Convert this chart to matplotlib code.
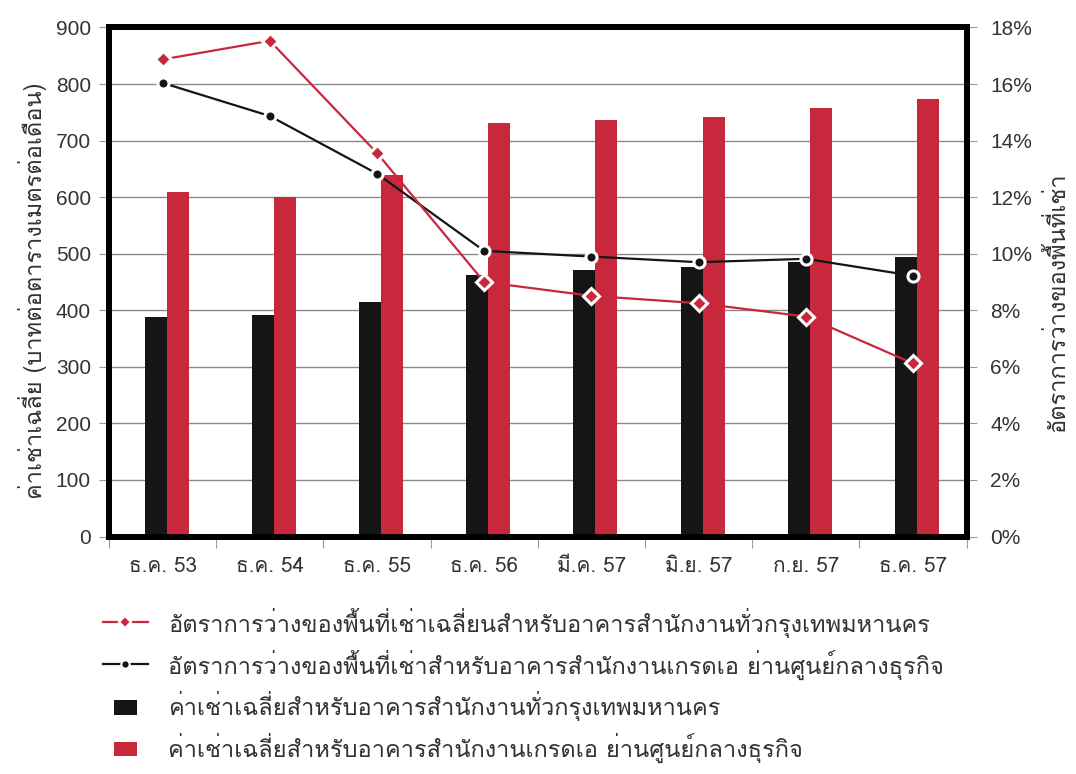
import matplotlib
matplotlib.use("Agg")
import matplotlib.pyplot as plt
import numpy as np
from matplotlib import font_manager
from matplotlib.ft2font import FT2Font
from matplotlib.lines import Line2D
from matplotlib.patches import Patch, Rectangle
from matplotlib.legend_handler import HandlerPatch

# data
categories = ["ธ.ค. 53", "ธ.ค. 54", "ธ.ค. 55", "ธ.ค. 56", "มี.ค. 57", "มิ.ย. 57", "ก.ย. 57", "ธ.ค. 57"]
rent_bkk = [389, 391, 414, 462, 471, 476, 485, 494]
rent_grade_a = [609, 600, 640, 732, 736, 742, 758, 774]
vacancy_bkk = [16.87, 17.53, 13.56, 9.0, 8.51, 8.25, 7.78, 6.12]
vacancy_grade_a = [16.04, 14.87, 12.83, 10.1, 9.9, 9.7, 9.82, 9.22]

labels = [
    "อัตราการว่างของพื้นที่เช่าเฉลี่ยนสำหรับอาคารสำนักงานทั่วกรุงเทพมหานคร",
    "อัตราการว่างของพื้นที่เช่าสำหรับอาคารสำนักงานเกรดเอ ย่านศูนย์กลางธุรกิจ",
    "ค่าเช่าเฉลี่ยสำหรับอาคารสำนักงานทั่วกรุงเทพมหานคร",
    "ค่าเช่าเฉลี่ยสำหรับอาคารสำนักงานเกรดเอ ย่านศูนย์กลางธุรกิจ",
]
ylabel_left = "ค่าเช่าเฉลี่ย (บาทต่อตารางเมตรต่อเดือน)"
ylabel_right = "อัตราการว่างของพื้นที่เช่า"

# find any installed font that has Thai glyphs
thai = []
for f in font_manager.fontManager.ttflist:
    try:
        if 0x0E2D in FT2Font(f.fname).get_charmap() and f.name not in thai:
            thai.append(f.name)
    except Exception:
        pass
families = thai + ["Liberation Sans", "DejaVu Sans"]
latin = ["Liberation Sans", "DejaVu Sans"]
plt.rcParams["font.family"] = families

RED = "#c8283c"
BLACK = "#151515"
TXT = "#333333"

fig = plt.figure(figsize=(10.76, 7.74), dpi=100)
ax = fig.add_axes([0.1013, 0.3068, 0.797, 0.6577])
ax2 = ax.twinx()

x = np.arange(len(categories))
w = 0.205
ax.bar(x - 0.065, rent_bkk, width=w, color=BLACK, zorder=3)
ax.bar(x + 0.14, rent_grade_a, width=w, color=RED, zorder=3)

ax.set_ylim(0, 900)
ax.set_yticks(np.arange(0, 901, 100))
ax.set_xlim(-0.5, len(categories) - 0.5)
ax.grid(axis="y", color="#8a8a8a", linewidth=1.0, zorder=0)
ax.set_axisbelow(True)

ax.set_xticks(np.arange(-0.5, len(categories)))
ax.set_xticklabels([])
ax.set_xticks(x, minor=True)
ax.set_xticklabels(categories, minor=True)
ax.tick_params(axis="x", which="major", length=8, color="#999999", direction="out")
ax.tick_params(axis="x", which="minor", length=0, pad=15, labelsize=15, labelcolor=TXT)
ax.tick_params(axis="y", length=7, color="#999999", labelsize=15, labelcolor=TXT, pad=6)
for lab in ax.get_yticklabels():
    lab.set_family(latin)

ax2.set_ylim(0, 18)
ax2.set_yticks(np.arange(0, 19, 2))
ax2.set_yticklabels([f"{v}%" for v in range(0, 19, 2)], family=latin)
ax2.tick_params(axis="y", length=7, color="#999999", labelsize=15, labelcolor=TXT, pad=10)

ax2.plot(x, vacancy_grade_a, color=BLACK, lw=1.6, marker="o", ms=8,
         mfc=BLACK, mec="white", mew=2.2, zorder=5)
ax2.plot(x, vacancy_bkk, color=RED, lw=1.6, marker="D", ms=8,
         mfc=RED, mec="white", mew=2.2, zorder=6)

for a in (ax, ax2):
    for s in a.spines.values():
        s.set_linewidth(4.2)
        s.set_color("black")

ax.set_ylabel(ylabel_left, fontsize=17, color=TXT)
ax.yaxis.set_label_coords(-0.0725, 0.482)
ax2.set_ylabel(ylabel_right, fontsize=17, color=TXT, rotation=90)
ax2.yaxis.set_label_coords(1.092, 0.46)


def small_box(legend, orig_handle, xdescent, ydescent, width, height, fontsize):
    bw, bh = 16.5, 10.5
    return Rectangle((-xdescent + (width - bw) / 2, -ydescent + (height - bh) / 2), bw, bh)


handles = [
    Line2D([], [], color=RED, lw=1.6, marker="D", ms=6, mfc=RED, mec="white", mew=1.5),
    Line2D([], [], color=BLACK, lw=1.6, marker="o", ms=6, mfc=BLACK, mec="white", mew=1.5),
    Patch(facecolor=BLACK),
    Patch(facecolor=RED),
]
fig.legend(handles, labels, loc="upper left", bbox_to_anchor=(0.0957, 0.215),
           frameon=False, fontsize=17, labelspacing=0.5, handlelength=1.9,
           handleheight=1.0, handletextpad=0.85, borderpad=0, borderaxespad=0,
           labelcolor=TXT, handler_map={Patch: HandlerPatch(patch_func=small_box)})

fig.savefig("out.png", dpi=100)
